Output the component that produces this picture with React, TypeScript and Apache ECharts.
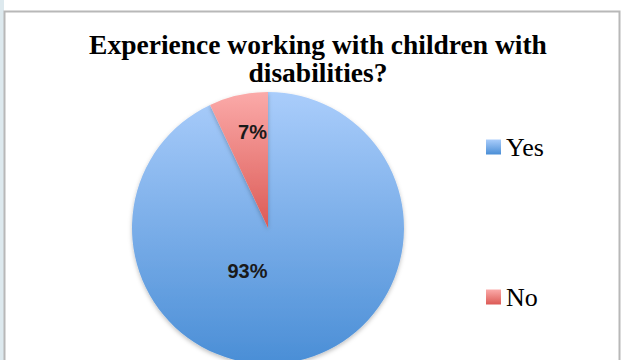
import React, { useEffect, useRef } from "react";
import * as echarts from "echarts";

const titleText = "Experience working with children with\ndisabilities?";
const categories = ["Yes", "No"];
const values = [93, 7];
const percentLabels = ["93%", "7%"];

export default function App() {
  const ref = useRef<HTMLDivElement>(null);
  useEffect(() => {
    const chart = echarts.init(ref.current!, null, { renderer: "svg" });
    const grad = (a: string, b: string) =>
      new echarts.graphic.LinearGradient(0, 0, 0, 1, [
        { offset: 0, color: a },
        { offset: 1, color: b },
      ]);
    const colors = [grad("#aacdfb", "#4a8ed6"), grad("#fbaaa9", "#dc5a55")];
    const offsets = [
      [-36, -26],
      [0, -27],
    ];
    chart.setOption({
      animation: false,
      backgroundColor: "#ffffff",
      graphic: [
        { type: "rect", shape: { x: 0, y: 0, width: 4, height: 360 }, style: { fill: "#dde9ee" }, silent: true },
        {
          type: "rect",
          shape: { x: 4.5, y: 11.5, width: 615, height: 360 },
          style: { fill: "none", stroke: "#b8b8b8", lineWidth: 2 },
          silent: true,
        },
      ],
      title: {
        text: titleText,
        left: 313,
        top: 25,
        textAlign: "center",
        textStyle: {
          fontFamily: "Liberation Serif",
          fontWeight: "bold",
          fontSize: 27.5,
          lineHeight: 28,
          color: "#000000",
        },
      },
      legend: {
        orient: "vertical",
        left: 481,
        top: 129,
        itemWidth: 15,
        itemHeight: 15,
        itemGap: 124,
        icon: "rect",
        data: categories,
        textStyle: { fontFamily: "Liberation Serif", fontSize: 26, color: "#000000", padding: [0, 0, 0, 0] },
      },
      series: [
        {
          type: "pie",
          center: [268, 228],
          radius: [0, 136],
          startAngle: 90,
          clockwise: true,
          itemStyle: { shadowBlur: 4, shadowColor: "rgba(0,0,0,0.25)", shadowOffsetY: 2 },
          labelLine: { show: false },
          data: categories.map((c, i) => ({
            name: c,
            value: values[i],
            itemStyle: { color: colors[i] },
            label: {
              show: true,
              position: "inside",
              formatter: percentLabels[i],
              offset: offsets[i],
              fontFamily: "Liberation Sans",
              fontWeight: "bold",
              fontSize: 20,
              color: "#1a1a1a",
            },
          })),
        },
      ],
    });
    return () => chart.dispose();
  }, []);
  return (
    <div
      ref={ref}
      style={{ position: "fixed", left: 0, top: 0, width: 622, height: 360 }}
    />
  );
}
